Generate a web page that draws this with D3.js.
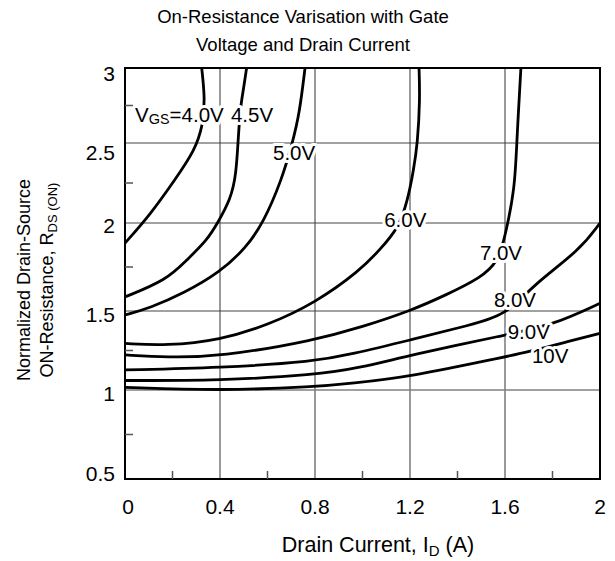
<!DOCTYPE html>
<html><head><meta charset="utf-8">
<script src="https://cdn.jsdelivr.net/npm/d3@7"></script>
<style>body{margin:0;background:#fff}svg{display:block}text{font-family:"Liberation Sans",Arial,sans-serif;fill:#000}</style>
</head><body>
<svg id="c" width="615" height="561"></svg>
<script>
// ---- data ----
const xTicks = [0, 0.4, 0.8, 1.2, 1.6, 2];
const xMinor = [0.2, 0.6, 1.0, 1.4, 1.8];
const yTicks = [0.5, 1, 1.5, 2, 2.5, 3];
const yMinor = [0.75, 1.25, 1.75, 2.25, 2.75];
const xGrid = [0.4, 0.8, 1.2, 1.6];
const yGrid = [1, 1.5, 2, 2.5];

const v40 = [[0,1.886],[0.105,2.05],[0.21,2.27],[0.295,2.456],[0.328,2.62],[0.337,2.79],[0.323,3.0]];
const v45 = [[0,1.58],[0.175,1.676],[0.26,1.79],[0.344,1.90],[0.39,2.0],[0.445,2.15],[0.468,2.3],[0.477,2.54],[0.486,2.74],[0.498,2.85],[0.512,3.0]];
const v50 = [[0,1.475],[0.105,1.517],[0.246,1.60],[0.4,1.72],[0.51,1.86],[0.582,2.0],[0.66,2.27],[0.705,2.5],[0.735,2.7],[0.758,3.0]];
const v60 = [[0,1.295],[0.175,1.28],[0.4,1.316],[0.6,1.41],[0.8,1.545],[0.99,1.73],[1.074,1.85],[1.151,1.97],[1.19,2.14],[1.215,2.33],[1.232,2.5],[1.242,2.79],[1.238,3.0]];
const v70 = [[0,1.222],[0.175,1.207],[0.4,1.21],[0.8,1.315],[1.0,1.4],[1.2,1.5],[1.35,1.59],[1.5,1.69],[1.57,1.78],[1.6,1.92],[1.642,2.22],[1.649,2.5],[1.667,3.0]];
const v80 = [[0,1.127],[0.4,1.14],[0.8,1.18],[0.95,1.225],[1.2,1.316],[1.45,1.41],[1.607,1.475],[1.718,1.648],[1.916,1.847],[2.0,2.0]];
const v90 = [[0,1.06],[0.4,1.06],[0.8,1.095],[0.99,1.14],[1.2,1.22],[1.6,1.348],[1.8,1.41],[2.0,1.544]];
const v100 = [[0,1.017],[0.4,0.996],[0.8,1.02],[0.95,1.042],[1.2,1.084],[1.6,1.21],[1.684,1.236],[1.874,1.31],[2.0,1.359]];
const series = [v40, v45, v50, v60, v70, v80, v90, v100];

const labelText = ["4.0V", "4.5V", "5.0V", "6.0V", "7.0V", "8.0V", "9.0V", "10V"];
const labelI = [0.042, 0.535, 0.712, 1.18, 1.583, 1.642, 1.70, 1.79];
const labelR = [2.687, 2.687, 2.44, 2.02, 1.83, 1.5625, 1.367, 1.22];

// ---- chart ----
const svg = d3.select("#c");
const x = d3.scaleLinear().domain([0, 2]).range([125, 600]);
const y = d3.scaleLinear().domain(yTicks).range([479, 390, 311, 223, 143, 68]);
const yLab = d3.scaleLinear().domain(yTicks).range([473, 393, 314, 225, 152, 73]);

// grid
svg.append("g").selectAll("line").data(xGrid).join("line")
  .attr("x1", d => x(d)).attr("x2", d => x(d)).attr("y1", y(0.5)).attr("y2", y(3))
  .attr("stroke", "#808080").attr("stroke-width", 1.6);
svg.append("g").selectAll("line").data(yGrid).join("line")
  .attr("x1", x(0)).attr("x2", x(2)).attr("y1", d => y(d)).attr("y2", d => y(d))
  .attr("stroke", d => d === 1 ? "#808080" : "#444").attr("stroke-width", d => d === 1 ? 1.6 : 1.2);

// curves
const line = d3.line().x(d => x(d[0])).y(d => y(d[1])).curve(d3.curveBasis);
svg.append("g").selectAll("path").data(series).join("path")
  .attr("d", line).attr("fill", "none").attr("stroke", "#000").attr("stroke-width", 2.8);

// labels
const lg = svg.append("g").attr("font-size", 20.5);
labelText.forEach((t, i) => {
  const tx = lg.append("text")
    .attr("x", x(labelI[i])).attr("y", y(labelR[i])).attr("dy", "0.36em")
    .attr("text-anchor", i === 0 ? "start" : "middle")
    .attr("stroke", "#fff").attr("stroke-width", 6).attr("stroke-linejoin", "round")
    .attr("paint-order", "stroke");
  if (i === 0) {
    tx.append("tspan").text("V");
    tx.append("tspan").attr("font-size", 14.5).attr("dy", 2).text("GS");
    tx.append("tspan").attr("dy", -2).text("=" + t);
  } else {
    tx.text(t);
  }
});

// frame
svg.append("rect").attr("x", x(0)).attr("y", y(3)).attr("width", x(2) - x(0)).attr("height", y(0.5) - y(3))
  .attr("fill", "none").attr("stroke", "#000").attr("stroke-width", 2);

// minor ticks
svg.append("g").selectAll("line").data(xMinor).join("line")
  .attr("x1", d => x(d)).attr("x2", d => x(d)).attr("y1", y(0.5)).attr("y2", y(0.5) - 8)
  .attr("stroke", "#555").attr("stroke-width", 1.5);
svg.append("g").selectAll("line").data(yMinor).join("line")
  .attr("x1", x(0)).attr("x2", x(0) + 8).attr("y1", d => y(d)).attr("y2", d => y(d))
  .attr("stroke", "#555").attr("stroke-width", 1.5);

// tick labels
svg.append("g").attr("font-size", 21).selectAll("text").data(xTicks).join("text")
  .attr("x", d => x(d) + (d === 0 ? 3 : 0)).attr("y", 514).attr("text-anchor", "middle")
  .text(d => String(d));
svg.append("g").attr("font-size", 21).selectAll("text").data(yTicks).join("text")
  .attr("x", 115).attr("y", d => yLab(d)).attr("dy", "0.36em").attr("text-anchor", "end")
  .text(d => String(d));

// axis titles
const xt = svg.append("text").attr("x", 378).attr("y", 552).attr("text-anchor", "middle").attr("font-size", 21.5);
xt.append("tspan").text("Drain Current, I");
xt.append("tspan").attr("font-size", 15).attr("dy", 4).text("D");
xt.append("tspan").attr("dy", -4).text(" (A)");

const yt = svg.append("g").attr("transform", "translate(0,280) rotate(-90)");
yt.append("text").attr("x", 0).attr("y", 30).attr("text-anchor", "middle").attr("font-size", 18)
  .text("Normalized Drain-Source");
const yt2 = yt.append("text").attr("x", 0).attr("y", 53).attr("text-anchor", "middle").attr("font-size", 18);
yt2.append("tspan").text("ON-Resistance, R");
yt2.append("tspan").attr("font-size", 13).attr("dy", 4).text("DS (ON)");

// title
const tt = svg.append("text").attr("text-anchor", "middle").attr("font-size", 18.5);
tt.append("tspan").attr("x", 303).attr("y", 23).text("On-Resistance Varisation with Gate");
tt.append("tspan").attr("x", 303).attr("y", 51).text("Voltage and Drain Current");
</script>
</body></html>
